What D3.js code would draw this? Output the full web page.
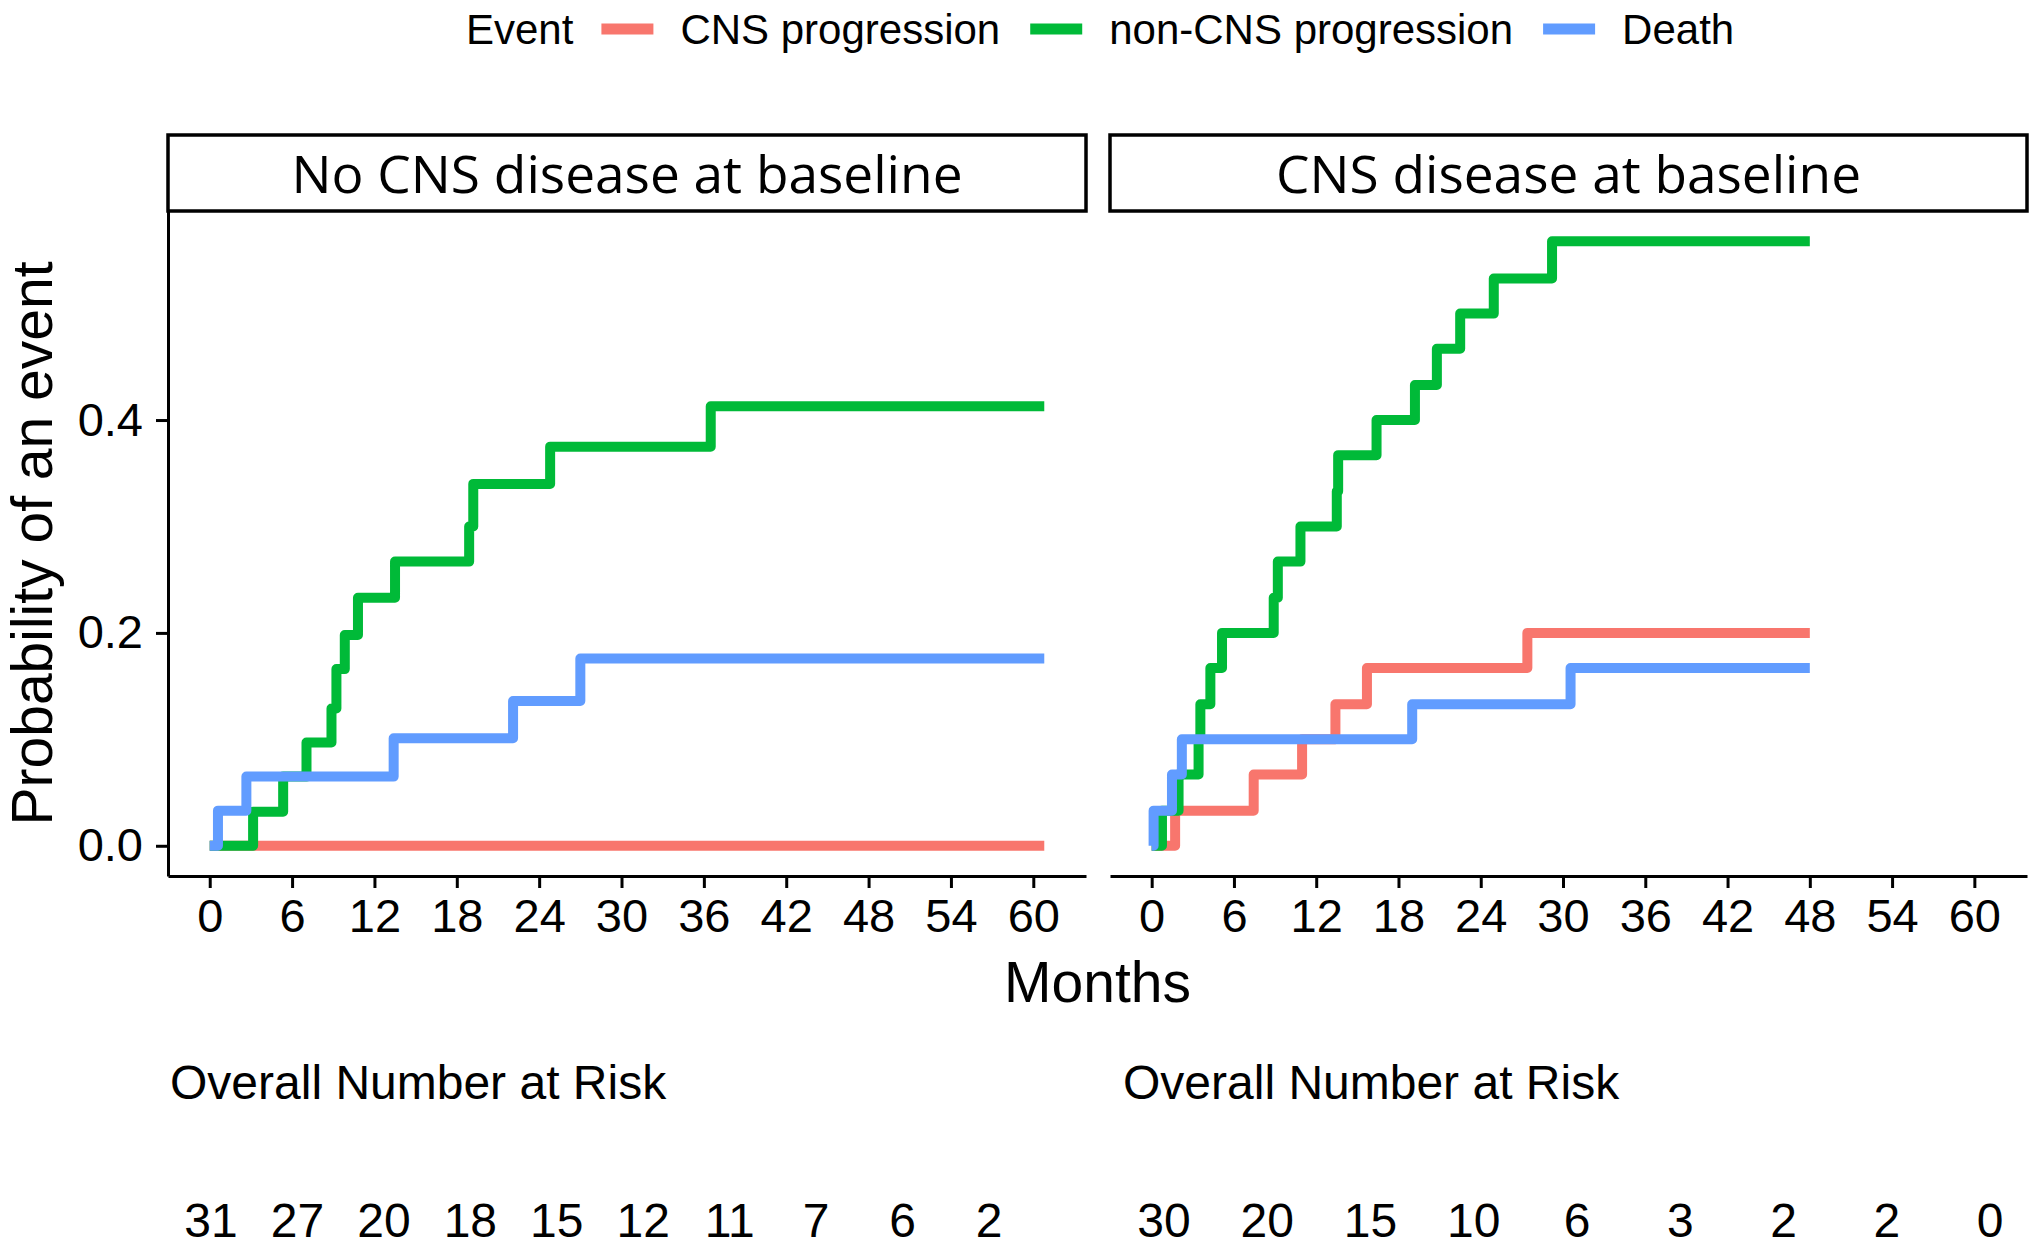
<!DOCTYPE html>
<html>
<head>
<meta charset="utf-8">
<script src="https://cdn.jsdelivr.net/npm/d3@7"></script>
<style>
body { margin: 0; background: #fff; }
svg text { font-family: "Liberation Sans", Arial, sans-serif; fill: #000; }
</style>
</head>
<body>
<div id="chart"></div>
<script>
// facets and events
var panels = ['No CNS disease at baseline', 'CNS disease at baseline'];
var events = ['CNS progression', 'non-CNS progression', 'Death'];
var colors = ['#F8766D', '#00BA38', '#619CFF'];
var monthTicks = [0, 6, 12, 18, 24, 30, 36, 42, 48, 54, 60];
var probTicks = [0, 0.2, 0.4];
var followUpEnd = [60.8, 48];

// No CNS disease at baseline
var cnsTimesNo = [0];
var cnsProbNo = [0];
var nonCnsTimesNo = [0, 3.16, 5.35, 7.05, 8.87, 9.23, 9.84, 10.8, 13.5, 18.9, 19.2, 24.8, 36.5];
var nonCnsProbNo = [0, 0.032, 0.065, 0.097, 0.129, 0.166, 0.198, 0.233, 0.267, 0.300, 0.340, 0.375, 0.413];
var deathTimesNo = [0, 0.6, 2.67, 13.4, 22.1, 27.0];
var deathProbNo = [0, 0.033, 0.065, 0.101, 0.136, 0.176];

// CNS disease at baseline
var cnsTimesYes = [0, 1.71, 7.44, 10.97, 13.4, 15.7, 27.4];
var cnsProbYes = [0, 0.033, 0.067, 0.100, 0.133, 0.167, 0.200];
var nonCnsTimesYes = [0, 0.75, 1.96, 3.42, 3.55, 4.28, 5.13, 8.9, 9.2, 10.85, 13.5, 13.6, 16.4, 19.2, 20.8, 22.5, 24.95, 29.2];
var nonCnsProbYes = [0, 0.033, 0.067, 0.100, 0.133, 0.167, 0.200, 0.233, 0.267, 0.300, 0.333, 0.367, 0.400, 0.433, 0.467, 0.500, 0.533, 0.568];
var deathTimesYes = [0, 0.14, 1.48, 2.2, 19.0, 30.55];
var deathProbYes = [0, 0.033, 0.067, 0.100, 0.133, 0.167];

// number at risk
var riskTimesNo = [0, 6, 12, 18, 24, 30, 36, 42, 48, 54];
var riskNo = [31, 27, 20, 18, 15, 12, 11, 7, 6, 2];
var riskTimesYes = [0, 6, 12, 18, 24, 30, 36, 42, 48];
var riskYes = [30, 20, 15, 10, 6, 3, 2, 2, 0];

var curves = [
	[[cnsTimesNo, cnsProbNo], [nonCnsTimesNo, nonCnsProbNo], [deathTimesNo, deathProbNo]],
	[[cnsTimesYes, cnsProbYes], [nonCnsTimesYes, nonCnsProbYes], [deathTimesYes, deathProbYes]]
];
var risks = [[riskTimesNo, riskNo], [riskTimesYes, riskYes]];

const width = 2040;
const height = 1248;
const panelX = [[168, 1086], [1110, 2027]];
const panelTop = 211;
const panelBottom = 876;
const stripTop = 135;
const lineWidth = 10;
const axisWidth = 3;

var svg = d3.select('#chart')
	.append('svg')
	.attr('width', width)
	.attr('height', height);

var maxT = d3.max(followUpEnd);
var maxP = d3.max(curves, p => d3.max(p, c => d3.max(c[1])));

var yScale = d3.scaleLinear()
	.domain([-0.05 * maxP, 1.05 * maxP])
	.range([panelBottom, panelTop]);

var line = d3.line()
	.x(d => d.x)
	.y(d => d.y)
	.curve(d3.curveStepAfter);

panels.forEach(function(name, p) {
	var xScale = d3.scaleLinear()
		.domain([-0.05 * maxT, 1.05 * maxT])
		.range(panelX[p]);

	// strip
	svg.append('rect')
		.attr('x', panelX[p][0])
		.attr('y', stripTop)
		.attr('width', panelX[p][1] - panelX[p][0])
		.attr('height', panelTop - stripTop)
		.attr('fill', '#fff')
		.attr('stroke', '#000')
		.attr('stroke-width', axisWidth + 0.5);

	svg.append('text')
		.attr('x', (panelX[p][0] + panelX[p][1]) / 2)
		.attr('y', 193)
		.attr('text-anchor', 'middle')
		.style('font-family', '"Open Sans", "Noto Sans", sans-serif')
		.style('font-size', '51px')
		.attr('textLength', p == 0 ? 671 : 585)
		.attr('lengthAdjust', 'spacingAndGlyphs')
		.text(name);

	// step curves, drawn red, green, blue
	curves[p].forEach(function(c, i) {
		var pts = c[0].map((t, j) => ({x: xScale(t), y: yScale(c[1][j])}));
		pts.push({x: xScale(followUpEnd[p]), y: yScale(c[1][c[1].length - 1])});
		svg.append('path')
			.attr('d', line(pts))
			.attr('fill', 'none')
			.attr('stroke', colors[i])
			.attr('stroke-width', lineWidth)
			.attr('stroke-linejoin', 'round');
	});

	// x axis
	var xAxis = svg.append('g')
		.attr('transform', `translate(0,${panelBottom})`)
		.call(d3.axisBottom(xScale).tickValues(monthTicks).tickSize(12).tickSizeOuter(0).tickPadding(11));
	xAxis.selectAll('path, line').attr('stroke', '#000').attr('stroke-width', axisWidth);
	xAxis.selectAll('text').style('font-size', '47px').style('font-family', '"Liberation Sans", Arial, sans-serif');

	if (p == 0) {
		var yAxis = svg.append('g')
			.attr('transform', `translate(${panelX[0][0]},0)`)
			.call(d3.axisLeft(yScale).tickValues(probTicks).tickFormat(d3.format('.1f')).tickSize(12).tickSizeOuter(0).tickPadding(13));
		yAxis.selectAll('path, line').attr('stroke', '#000').attr('stroke-width', axisWidth);
		yAxis.selectAll('text').style('font-size', '47px').style('font-family', '"Liberation Sans", Arial, sans-serif');
	}

	// number at risk
	var riskX = d3.scaleLinear()
		.domain([0, d3.max(risks[p][0])])
		.range(p == 0 ? [211, 989] : [1164, 1990]);

	svg.append('text')
		.attr('x', p == 0 ? 170 : 1123)
		.attr('y', 1099)
		.style('font-size', '48px')
		.text('Overall Number at Risk');

	svg.append('g')
		.selectAll('text')
		.data(risks[p][1])
		.enter()
		.append('text')
		.attr('x', (d, i) => riskX(risks[p][0][i]))
		.attr('y', 1237)
		.attr('text-anchor', 'middle')
		.style('font-size', '48px')
		.text(d => d);
});

// axis titles
svg.append('text')
	.attr('x', (panelX[0][0] + panelX[1][1]) / 2)
	.attr('y', 1002)
	.attr('text-anchor', 'middle')
	.style('font-size', '57px')
	.text('Months');

svg.append('text')
	.attr('transform', `translate(52,${(panelTop + panelBottom) / 2}) rotate(-90)`)
	.attr('text-anchor', 'middle')
	.style('font-size', '57px')
	.text('Probability of an event');

// legend
var legend = svg.append('g').attr('transform', 'translate(466,29)');
var lx = 0;
var title = legend.append('text')
	.attr('x', lx)
	.attr('dy', '0.35em')
	.style('font-size', '42px')
	.text('Event');
lx += title.node().getComputedTextLength() + 28;
events.forEach(function(ev, i) {
	legend.append('line')
		.attr('x1', lx)
		.attr('x2', lx + 52)
		.attr('stroke', colors[i])
		.attr('stroke-width', 11);
	lx += 52 + 27;
	var t = legend.append('text')
		.attr('x', lx)
		.attr('dy', '0.35em')
		.style('font-size', '42px')
		.text(ev);
	lx += t.node().getComputedTextLength() + 30;
});
</script>
</body>
</html>
